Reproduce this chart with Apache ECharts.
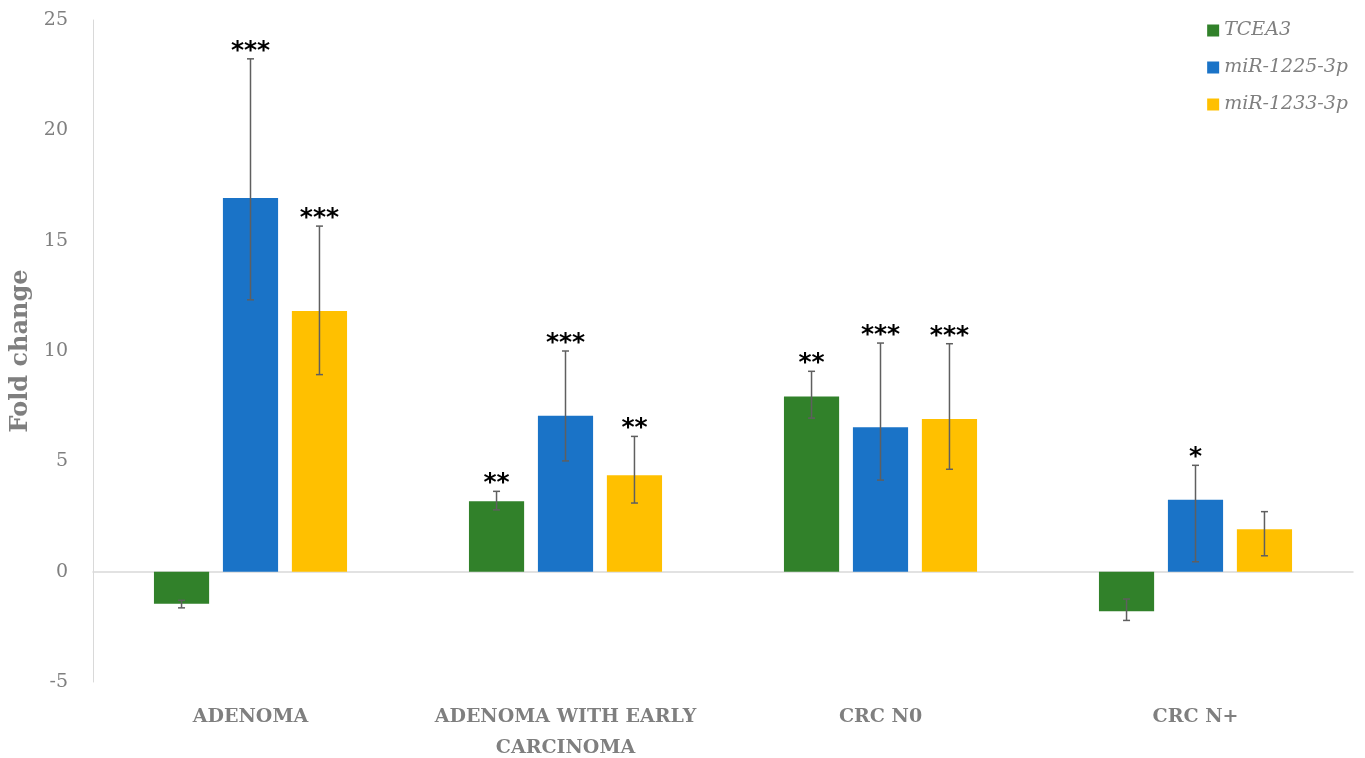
<!DOCTYPE html>
<html>
<head>
<meta charset="utf-8">
<script src="https://cdn.jsdelivr.net/npm/echarts@6/dist/echarts.min.js"></script>
<style>
  html, body { margin: 0; padding: 0; background: #fff; }
  #chart { width: 1365px; height: 758px; }
</style>
</head>
<body>
<div id="chart"></div>
<script>
const categories = ['ADENOMA', 'ADENOMA WITH EARLY\nCARCINOMA', 'CRC N0', 'CRC N+'];
const seriesNames = ['TCEA3', 'miR-1225-3p', 'miR-1233-3p'];
const colors = ['#31812A', '#1A73C7', '#FFC000'];

// Mean fold change per group
const tcea3 = [-1.45, 3.19, 7.94, -1.79];
const mir1225 = [16.93, 7.07, 6.55, 3.26];
const mir1233 = [11.81, 4.37, 6.92, 1.92];

// Error bar ends [low, high]
const tcea3Err = [[-1.64, -1.30], [2.80, 3.64], [6.96, 9.08], [-2.21, -1.24]];
const mir1225Err = [[12.32, 23.24], [5.02, 10.0], [4.15, 10.36], [0.45, 4.82]];
const mir1233Err = [[8.93, 15.66], [3.11, 6.13], [4.64, 10.33], [0.72, 2.72]];

// Significance marks
const tcea3Sig = ['', '**', '**', ''];
const mir1225Sig = ['***', '***', '***', '*'];
const mir1233Sig = ['***', '**', '***', ''];

const values = [tcea3, mir1225, mir1233];
const errs = [tcea3Err, mir1225Err, mir1233Err];
const sigs = [tcea3Sig, mir1225Sig, mir1233Sig];

const FONT = '"DejaVu Serif", "Liberation Serif", serif';
const GRAY = '#7F7F7F';
const CAT_GAP = 0.387;
const BAR_GAP = 0.25;

function errorSeries(k) {
  return {
    type: 'custom',
    name: seriesNames[k] + ' error',
    z: 5,
    silent: true,
    data: errs[k].map((e, i) => [i, e[0], e[1]]),
    renderItem: function (params, api) {
      const ci = api.value(0);
      const cw = api.size([1, 0])[0];
      const band = cw * (1 - CAT_GAP);
      const bw = band / (3 + 2 * BAR_GAP);
      const off = -band / 2 + bw / 2 + k * bw * (1 + BAR_GAP);
      const lo = api.coord([ci, api.value(1)]);
      const hi = api.coord([ci, api.value(2)]);
      const x = lo[0] + off;
      const cap = 3.5;
      const style = { stroke: '#5F5F5F', lineWidth: 1.5 };
      const children = [
        { type: 'line', shape: { x1: x, y1: lo[1], x2: x, y2: hi[1] }, style: style },
        { type: 'line', shape: { x1: x - cap, y1: lo[1], x2: x + cap, y2: lo[1] }, style: style },
        { type: 'line', shape: { x1: x - cap, y1: hi[1], x2: x + cap, y2: hi[1] }, style: style }
      ];
      const sig = sigs[k][ci];
      if (sig) {
        children.push({
          type: 'text',
          style: {
            text: sig, x: x, y: hi[1] + 5,
            align: 'center', verticalAlign: 'bottom',
            font: 'bold 25px "DejaVu Sans", sans-serif',
            fill: '#000'
          }
        });
      }
      return { type: 'group', children: children };
    }
  };
}

const barSeries = seriesNames.map((n, k) => ({
  type: 'bar',
  name: n,
  data: values[k],
  itemStyle: { color: colors[k] },
  barGap: (BAR_GAP * 100) + '%',
  barCategoryGap: (CAT_GAP * 100) + '%'
}));

const chart = echarts.init(document.getElementById('chart'));
chart.setOption({
  animation: false,
  backgroundColor: '#fff',
  grid: { left: 93, right: 12, top: 20, bottom: 76, containLabel: false, outerBoundsMode: 'none' },
  legend: {
    data: seriesNames,
    orient: 'vertical',
    right: 12,
    top: 16,
    itemWidth: 12,
    itemHeight: 12,
    itemGap: 18,
    icon: 'rect',
    textStyle: { fontFamily: FONT, fontStyle: 'italic', fontSize: 19, color: GRAY }
  },
  xAxis: {
    type: 'category',
    data: categories,
    axisLine: { show: true, onZero: true, lineStyle: { color: '#D9D9D9', width: 1.5 } },
    axisTick: { show: false },
    axisLabel: {
      fontFamily: FONT,
      fontWeight: 'bold',
      fontSize: 19,
      color: GRAY,
      lineHeight: 31,
      margin: 20,
      interval: 0
    },
    position: 'bottom'
  },
  yAxis: {
    type: 'value',
    min: -5,
    max: 25,
    interval: 5,
    name: 'Fold change',
    nameLocation: 'middle',
    nameGap: 56,
    nameTextStyle: { fontFamily: FONT, fontWeight: 'bold', fontSize: 24, color: GRAY },
    axisLine: { show: true, lineStyle: { color: '#D9D9D9', width: 1 } },
    axisTick: { show: false },
    splitLine: { show: false },
    axisLabel: { fontFamily: FONT, fontSize: 19, color: GRAY, margin: 25 }
  },
  series: barSeries.concat([0, 1, 2].map(errorSeries))
});
</script>
</body>
</html>
